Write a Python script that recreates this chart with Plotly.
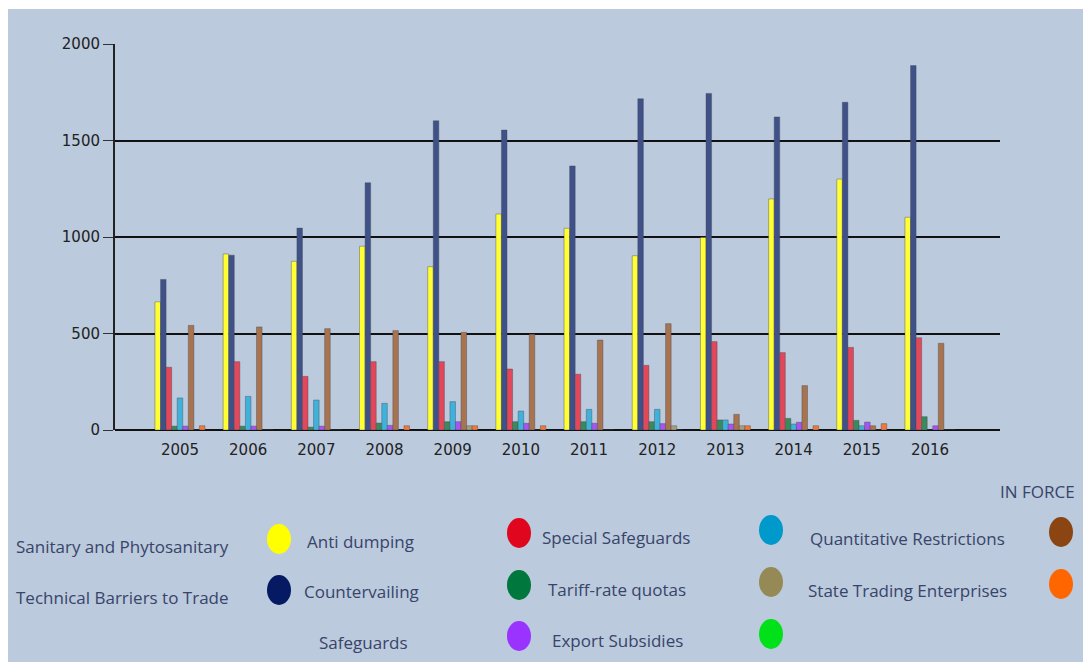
import plotly.graph_objects as go

# ---- data -------------------------------------------------------------
years = [str(y) for y in range(2005, 2017)]

sanitary_phyto = [664, 912, 874, 952, 846, 1119, 1045, 903, 998, 1197, 1300, 1102]
tech_barriers = [780, 906, 1046, 1281, 1602, 1554, 1368, 1716, 1744, 1622, 1698, 1888]
anti_dumping = [325, 354, 278, 354, 354, 316, 289, 335, 458, 401, 428, 478]
countervailing = [20, 20, 15, 36, 43, 43, 43, 43, 52, 60, 50, 69]
special_safeguards = [166, 174, 155, 138, 147, 98, 107, 107, 52, 31, 22, 0]
safeguards = [20, 20, 20, 24, 43, 35, 35, 33, 31, 40, 41, 22]
quant_restrictions = [542, 534, 525, 515, 506, 496, 466, 551, 81, 230, 22, 449]
tariff_rate_quotas = [0, 0, 0, 0, 22, 0, 0, 22, 22, 0, 0, 0]
state_trading = [22, 0, 0, 22, 22, 22, 0, 0, 22, 22, 33, 0]

y_ticks = [0, 500, 1000, 1500, 2000]

# bar series in drawing order: (values, bar colour)
bar_series = [
    (sanitary_phyto, "#FFFF33"),
    (tech_barriers, "#3F5189"),
    (anti_dumping, "#E2475A"),
    (countervailing, "#3B8A5C"),
    (special_safeguards, "#3FB2DC"),
    (safeguards, "#A656F0"),
    (quant_restrictions, "#A8734F"),
    (tariff_rate_quotas, "#A69E7A"),
    (state_trading, "#F0783A"),
]

# legend entries: (label, dot colour)
legend_entries = [
    ("Sanitary and Phytosanitary", "#FFFF00"),
    ("Technical Barriers to Trade", "#061A63"),
    ("Anti dumping", "#E0061E"),
    ("Countervailing", "#00773D"),
    ("Safeguards", "#9A33FF"),
    ("Special Safeguards", "#0099CC"),
    ("Tariff-rate quotas", "#958A55"),
    ("Export Subsidies", "#00E11A"),
    ("Quantitative Restrictions", "#8B4513"),
    ("State Trading Enterprises", "#FF6600"),
]
legend_title = "IN FORCE"

# ---- page geometry (pixels) ------------------------------------------
W_PAGE, H_PAGE = 1083, 662
L, R, T, B = 115, 83, 44, 232
PW = W_PAGE - L - R
PH = H_PAGE - T - B
BG = "#BBCADC"
TXT = "#38446A"


def fx(px):
    return (px - L) / PW


def fy(py):
    return (T + PH - py) / PH


fig = go.Figure()
for vals, col in bar_series:
    fig.add_trace(go.Bar(
        x=years, y=vals,
        marker=dict(color=col, line=dict(color="rgba(70,70,80,0.4)", width=1)),
        showlegend=False,
    ))

shapes = [
    # light blue card with a thin white margin at left and top
    dict(type="rect", xref="paper", yref="paper",
         x0=fx(8), x1=fx(W_PAGE + 2), y0=fy(H_PAGE + 2), y1=fy(9),
         fillcolor=BG, line=dict(width=0), layer="below"),
]

annotations = []

# legend layout: text anchor (left x, centre y) and dot centre for each entry
text_pos = [(14, 546), (14, 597), (305, 541), (302, 591), (317, 642),
            (540, 537), (546, 589), (550, 640), (808, 538), (806, 590)]
dot_pos = [(279, 539), (279, 590), (519, 533), (519, 585), (519, 636),
           (771, 530), (771, 582), (771, 634), (1061, 532), (1061, 584)]
DOT_W, DOT_H = 24, 30

for (label, col), (tx, ty), (dx, dy) in zip(legend_entries, text_pos, dot_pos):
    annotations.append(dict(
        text=label, xref="paper", yref="paper", x=fx(tx), y=fy(ty),
        xanchor="left", yanchor="middle", showarrow=False,
        font=dict(family="Open Sans", size=17, color=TXT),
    ))
    shapes.append(dict(
        type="circle", xref="paper", yref="paper",
        x0=fx(dx - DOT_W / 2), x1=fx(dx + DOT_W / 2),
        y0=fy(dy + DOT_H / 2), y1=fy(dy - DOT_H / 2),
        fillcolor=col, line=dict(width=0),
    ))

annotations.append(dict(
    text=legend_title, xref="paper", yref="paper", x=fx(1077), y=fy(491),
    xanchor="right", yanchor="middle", showarrow=False,
    font=dict(family="Open Sans", size=17, color=TXT),
))

fig.update_layout(
    width=W_PAGE, height=H_PAGE,
    margin=dict(l=L, r=R, t=T, b=B, pad=0),
    paper_bgcolor="white",
    plot_bgcolor="rgba(0,0,0,0)",
    barmode="group",
    bargap=0.267,
    bargroupgap=0,
    shapes=shapes,
    annotations=annotations,
    font=dict(family="DejaVu Sans", size=15, color="#222222"),
)

fig.update_xaxes(
    type="category",
    range=[-0.953, 12.027],
    showgrid=False,
    showline=False,
    ticks="",
    ticklabelstandoff=9,
    tickfont=dict(family="DejaVu Sans", size=15, color="#222222"),
    fixedrange=True,
)

fig.update_yaxes(
    range=[0, 2000],
    tickvals=y_ticks,
    showgrid=True, gridcolor="#111111", gridwidth=2,
    zeroline=True, zerolinecolor="#111111", zerolinewidth=2,
    showline=True, linecolor="#222222", linewidth=2,
    ticks="outside", ticklen=10, tickcolor="#333333", tickwidth=1,
    tickfont=dict(family="DejaVu Sans", size=15, color="#222222"),
    fixedrange=True,
)

fig.write_html("out.html")
